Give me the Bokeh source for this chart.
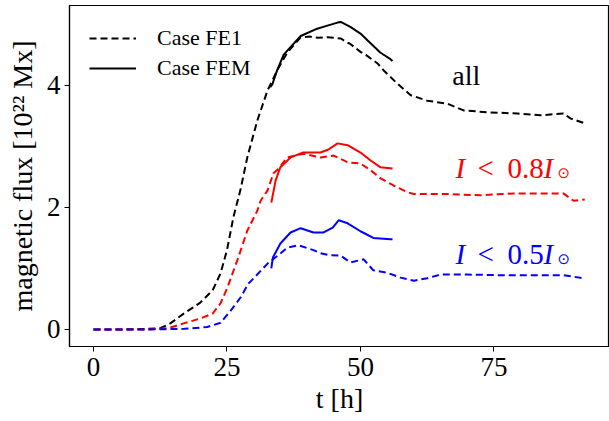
from bokeh.plotting import figure
from bokeh.models import Range1d, FixedTicker, Legend, LegendItem, Label
from bokeh.embed import file_html
from bokeh.resources import INLINE

# ---- data ----
t_all_fe1 = [0, 5, 10, 12.5, 14.4, 16.9, 20, 22.3, 23.8, 25, 26.2, 27.5, 28.8, 30.7, 32.6, 33.5, 34.4, 36.3,
             38.8, 40.6, 42, 43.8, 45, 46.3, 47.6, 48.1, 50, 51, 53.2, 54.3, 56.9, 59.4, 62.5, 66.3,
             69.3, 73.8, 79.4, 83.7, 88, 89.3, 92]
y_all_fe1 = [0, 0, 0.01, 0.02, 0.10, 0.26, 0.44, 0.64, 0.92, 1.3, 1.84, 2.28, 2.82, 3.43, 3.92, 4.08, 4.25, 4.54,
             4.79, 4.80, 4.78, 4.79, 4.78, 4.77, 4.70, 4.68, 4.55, 4.50, 4.36, 4.25, 4.03, 3.84, 3.75, 3.70,
             3.59, 3.56, 3.54, 3.51, 3.54, 3.46, 3.38]

t_all_fem = [33.1, 33.5, 34.4, 35.6, 36.3, 38.8, 41.9, 43.8, 45.7, 46.3, 48.1, 50, 51.3, 53.7, 55.6, 56]
y_all_fem = [3.97, 4.02, 4.25, 4.50, 4.57, 4.81, 4.93, 4.98, 5.03, 5.04, 4.96, 4.85, 4.74, 4.54, 4.43, 4.40]

t_08_fe1 = [0, 10, 13.9, 16.9, 20, 22.3, 23.8, 25, 27, 28.8, 30.7, 31.3, 32.6, 33.7, 34.5, 36.3, 39.3,
            42.5, 45, 47.6, 50, 51.9, 53.7, 56.2, 58.8, 60, 66.3, 72.5, 78.7, 85, 88, 89.9, 92]
y_08_fe1 = [0, 0, 0.02, 0.10, 0.18, 0.26, 0.43, 0.67, 1.15, 1.62, 1.95, 2.11, 2.28, 2.56, 2.62, 2.82, 2.88,
            2.82, 2.85, 2.74, 2.72, 2.61, 2.48, 2.36, 2.25, 2.22, 2.22, 2.20, 2.23, 2.23, 2.23, 2.11, 2.13]

t_08_fem = [33.3, 34.1, 35, 36.9, 39.3, 42.5, 44, 45.7, 47.6, 50, 51.9, 53.7, 56]
y_08_fem = [2.08, 2.44, 2.66, 2.82, 2.90, 2.90, 2.95, 3.05, 3.02, 2.90, 2.77, 2.66, 2.64]

t_05_fe1 = [0, 10, 17, 21.3, 23.8, 25.7, 27.5, 29, 30, 32.6, 34.5, 36.3, 38.4, 41.2, 42.5, 44, 46.3, 48.1, 50.6,
            52.4, 55, 57.5, 60, 62.5, 65, 70, 76.2, 82.4, 88, 91.8]
y_05_fe1 = [0, 0, 0.01, 0.04, 0.11, 0.31, 0.52, 0.75, 0.84, 1.08, 1.21, 1.34, 1.38, 1.30, 1.25, 1.22, 1.21, 1.10, 1.15,
            0.97, 0.93, 0.85, 0.80, 0.84, 0.90, 0.90, 0.89, 0.89, 0.89, 0.84]

t_05_fem = [33.3, 33.6, 35, 36.9, 38.8, 41.2, 43.1, 44.8, 45.9, 47.6, 50, 52.4, 55.6, 56]
y_05_fem = [1.0, 1.18, 1.41, 1.59, 1.66, 1.59, 1.59, 1.67, 1.79, 1.74, 1.61, 1.50, 1.48, 1.48]

x_ticks = [0, 25, 50, 75]
y_ticks = [0, 2, 4]

FONT = "Liberation Serif"
DASH = "7 4"
LW = 2

p = figure(frame_width=540, frame_height=341, output_backend="svg", toolbar_location=None,
           x_range=Range1d(-4.49, 96.63), y_range=Range1d(-0.279, 5.31),
           min_border_left=69, min_border_right=0, min_border_top=5, min_border_bottom=72)
p.grid.visible = False
p.outline_line_color = "black"
p.outline_line_width = 1.2
p.background_fill_color = "white"
p.border_fill_color = "white"

for ax in (p.xaxis[0], p.yaxis[0]):
    ax.major_label_text_font = FONT
    ax.major_label_text_font_size = "27px"
    ax.major_label_text_color = "black"
    ax.axis_label_text_font = FONT
    ax.axis_label_text_font_size = "28px"
    ax.axis_label_text_font_style = "normal"
    ax.axis_label_text_color = "black"
    ax.minor_tick_line_color = None
    ax.major_tick_in = 0
    ax.major_tick_out = 5
    ax.major_tick_line_color = "black"
    ax.axis_line_color = "black"
    ax.axis_line_width = 1.2

p.xaxis.ticker = FixedTicker(ticks=x_ticks)
p.yaxis.ticker = FixedTicker(ticks=y_ticks)
p.xaxis.axis_label = "t [h]"
p.yaxis.axis_label = "magnetic flux [10²² Mx]"
p.xaxis.major_label_standoff = 6
p.xaxis.axis_label_standoff = 4
p.yaxis.major_label_standoff = 4
p.yaxis.axis_label_standoff = 6

r_fe1 = p.line(t_all_fe1, y_all_fe1, color="black", line_width=LW, line_dash=DASH)
r_fem = p.line(t_all_fem, y_all_fem, color="black", line_width=LW)
p.line(t_08_fe1, y_08_fe1, color="red", line_width=LW, line_dash=DASH)
p.line(t_08_fem, y_08_fem, color="red", line_width=LW)
p.line(t_05_fe1, y_05_fe1, color="blue", line_width=LW, line_dash=DASH)
p.line(t_05_fem, y_05_fem, color="blue", line_width=LW)

legend = Legend(items=[LegendItem(label="Case FE1", renderers=[r_fe1]),
                       LegendItem(label="Case FEM", renderers=[r_fem])],
                location="top_left", margin=20, padding=0, spacing=4,
                glyph_width=47, glyph_height=20, label_height=20, label_standoff=21,
                label_text_font=FONT, label_text_font_size="22px", label_text_color="black",
                border_line_color=None, background_fill_alpha=0)
p.add_layout(legend)

p.add_layout(Label(x=67.2, y=4.0, y_offset=10, text="all", text_font=FONT, text_font_size="28px",
                   text_color="black", text_baseline="alphabetic"))


def ilabel(yb, num, color):
    x0 = 67.8
    kw = dict(x=x0, y=yb, text_font=FONT, text_font_size="29px", text_color=color,
              text_baseline="alphabetic", y_offset=10)
    p.add_layout(Label(text="I", text_font_style="italic", **kw))
    p.add_layout(Label(text="<", x_offset=22, **kw))
    p.add_layout(Label(text=num, x_offset=52, **kw))
    p.add_layout(Label(text="I", x_offset=88, text_font_style="italic", **kw))
    p.add_layout(Label(x=x0, y=yb, x_offset=102, y_offset=5, text="⊙", text_font="DejaVu Sans",
                       text_font_size="15px", text_color=color, text_baseline="alphabetic"))


ilabel(2.48, "0.8", "red")
ilabel(1.07, "0.5", "blue")

open("out.html", "w").write(file_html(p, INLINE))
